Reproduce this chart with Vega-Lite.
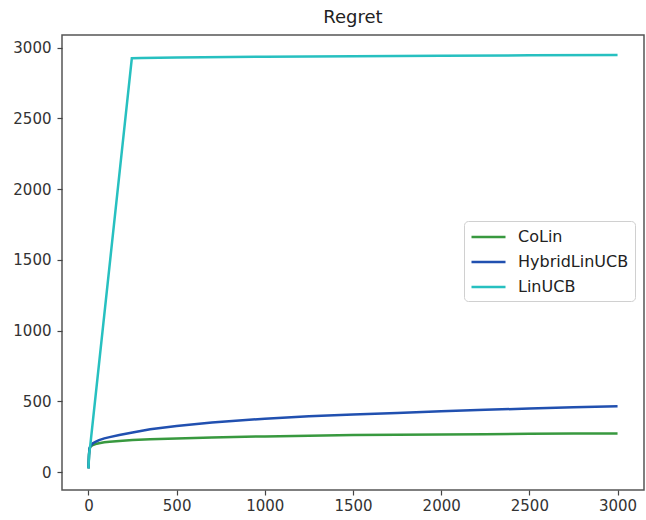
{
  "$schema": "https://vega.github.io/schema/vega-lite/v6.json",
  "width": 582,
  "height": 455,
  "autosize": {"type": "none"},
  "padding": {"left": 62, "top": 35, "right": 2, "bottom": 30},
  "background": "white",
  "title": {"text": "Regret", "fontSize": 18, "fontWeight": "normal", "font": "DejaVu Sans", "color": "#222", "baseline": "alphabetic", "offset": -6, "anchor": "middle"},
  "config": {
    "view": {"stroke": "#555", "strokeWidth": 1.5},
    "axis": {"grid": false, "domain": false, "labelFont": "DejaVu Sans", "labelFontSize": 15, "labelColor": "#333", "tickColor": "#444", "tickSize": 5, "tickWidth": 1.2, "title": null, "format": "d"}
  },
  "data": {"values": [
    {"t": 0, "regret": 26, "series": "CoLin"},
    {"t": 3, "regret": 120, "series": "CoLin"},
    {"t": 6, "regret": 165, "series": "CoLin"},
    {"t": 10, "regret": 176, "series": "CoLin"},
    {"t": 15, "regret": 183, "series": "CoLin"},
    {"t": 25, "regret": 191, "series": "CoLin"},
    {"t": 40, "regret": 198, "series": "CoLin"},
    {"t": 60, "regret": 204, "series": "CoLin"},
    {"t": 90, "regret": 210, "series": "CoLin"},
    {"t": 120, "regret": 214, "series": "CoLin"},
    {"t": 175, "regret": 220, "series": "CoLin"},
    {"t": 250, "regret": 226, "series": "CoLin"},
    {"t": 350, "regret": 231, "series": "CoLin"},
    {"t": 500, "regret": 237, "series": "CoLin"},
    {"t": 700, "regret": 245, "series": "CoLin"},
    {"t": 1000, "regret": 252, "series": "CoLin"},
    {"t": 1250, "regret": 257, "series": "CoLin"},
    {"t": 1500, "regret": 261, "series": "CoLin"},
    {"t": 1750, "regret": 264, "series": "CoLin"},
    {"t": 2000, "regret": 266, "series": "CoLin"},
    {"t": 2250, "regret": 268, "series": "CoLin"},
    {"t": 2500, "regret": 270, "series": "CoLin"},
    {"t": 2750, "regret": 272, "series": "CoLin"},
    {"t": 3000, "regret": 273, "series": "CoLin"},
    {"t": 0, "regret": 26, "series": "HybridLinUCB"},
    {"t": 3, "regret": 120, "series": "HybridLinUCB"},
    {"t": 6, "regret": 168, "series": "HybridLinUCB"},
    {"t": 10, "regret": 180, "series": "HybridLinUCB"},
    {"t": 15, "regret": 190, "series": "HybridLinUCB"},
    {"t": 25, "regret": 203, "series": "HybridLinUCB"},
    {"t": 40, "regret": 214, "series": "HybridLinUCB"},
    {"t": 60, "regret": 226, "series": "HybridLinUCB"},
    {"t": 90, "regret": 238, "series": "HybridLinUCB"},
    {"t": 120, "regret": 247, "series": "HybridLinUCB"},
    {"t": 175, "regret": 262, "series": "HybridLinUCB"},
    {"t": 250, "regret": 280, "series": "HybridLinUCB"},
    {"t": 350, "regret": 302, "series": "HybridLinUCB"},
    {"t": 500, "regret": 326, "series": "HybridLinUCB"},
    {"t": 700, "regret": 351, "series": "HybridLinUCB"},
    {"t": 1000, "regret": 377, "series": "HybridLinUCB"},
    {"t": 1250, "regret": 394, "series": "HybridLinUCB"},
    {"t": 1500, "regret": 407, "series": "HybridLinUCB"},
    {"t": 1750, "regret": 418, "series": "HybridLinUCB"},
    {"t": 2000, "regret": 429, "series": "HybridLinUCB"},
    {"t": 2250, "regret": 440, "series": "HybridLinUCB"},
    {"t": 2500, "regret": 449, "series": "HybridLinUCB"},
    {"t": 2750, "regret": 458, "series": "HybridLinUCB"},
    {"t": 3000, "regret": 466, "series": "HybridLinUCB"},
    {"t": 0, "regret": 26, "series": "LinUCB"},
    {"t": 4, "regret": 130, "series": "LinUCB"},
    {"t": 10, "regret": 185, "series": "LinUCB"},
    {"t": 246, "regret": 2926, "series": "LinUCB"},
    {"t": 300, "regret": 2928, "series": "LinUCB"},
    {"t": 500, "regret": 2931, "series": "LinUCB"},
    {"t": 1000, "regret": 2936, "series": "LinUCB"},
    {"t": 1500, "regret": 2940, "series": "LinUCB"},
    {"t": 2000, "regret": 2943, "series": "LinUCB"},
    {"t": 2500, "regret": 2946, "series": "LinUCB"},
    {"t": 3000, "regret": 2949, "series": "LinUCB"}
  ]},
  "mark": {"type": "line", "strokeWidth": 2.5, "clip": true},
  "encoding": {
    "x": {"field": "t", "type": "quantitative", "scale": {"domain": [-150, 3150], "nice": false, "zero": false}, "axis": {"values": [0, 500, 1000, 1500, 2000, 2500, 3000], "labelPadding": 3}},
    "y": {"field": "regret", "type": "quantitative", "scale": {"domain": [-127, 3090], "nice": false, "zero": false}, "axis": {"values": [0, 500, 1000, 1500, 2000, 2500, 3000], "labelPadding": 6}},
    "color": {"field": "series", "type": "nominal",
      "scale": {"domain": ["CoLin", "HybridLinUCB", "LinUCB"], "range": ["#38993f", "#2150b0", "#27c0c0"]},
      "legend": {"title": null, "orient": "none", "legendX": 402, "legendY": 186, "symbolType": "M-1,0H3", "symbolSize": 289, "symbolStrokeWidth": 2.5, "labelFont": "DejaVu Sans", "labelFontSize": 16, "labelColor": "#222", "labelOffset": 28, "rowPadding": 7, "padding": 6, "fillColor": "white", "strokeColor": "#d0d0d0", "cornerRadius": 4}
    },
    "order": {"field": "t", "type": "quantitative"}
  }
}
